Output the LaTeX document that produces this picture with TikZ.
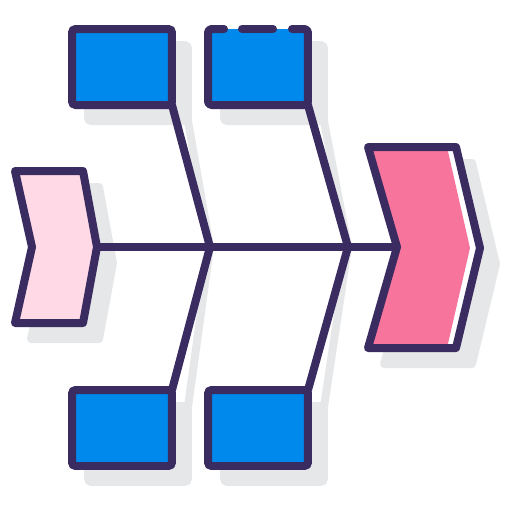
\documentclass[tikz,border=0pt]{standalone}
\usetikzlibrary{positioning, calc}
\definecolor{inkpurple}{RGB}{58, 44, 96}
\definecolor{causeblue}{RGB}{0, 137, 236}
\definecolor{tailpink}{RGB}{255, 217, 230}
\definecolor{headpink}{RGB}{247, 116, 156}
\definecolor{shadowgray}{RGB}{230, 231, 232}

\tikzset{
  causebox/.style={draw=inkpurple, fill=causeblue, line width=0.16cm, rounded corners=2pt, minimum width=2cm, minimum height=1.52cm, inner sep=0pt, outer sep=0pt},
  causeshadow/.style={draw=shadowgray, fill=shadowgray, line width=0.16cm, rounded corners=2pt, minimum width=2cm, minimum height=1.52cm, inner sep=0pt, outer sep=0pt},
  bone/.style={draw=inkpurple, line width=0.16cm, line cap=round, line join=round},
  boneshadow/.style={draw=shadowgray, line width=0.16cm, line cap=round, line join=round}
}

\begin{document}
\begin{tikzpicture}[x=0.02cm, y=-0.02cm]
  \useasboundingbox (0,0) rectangle (512,512);

  % Joints on the spine
  \coordinate (j1) at (210,247);
  \coordinate (j2) at (348,247);
  \coordinate (tailtip) at (97,247);
  \coordinate (headnotch) at (397,247);

  % Shadows
  \begin{scope}[shift={(16,16)}]
    \node[causeshadow] at (122,67) {};
    \node[causeshadow] at (258,67) {};
    \node[causeshadow] at (122,428) {};
    \node[causeshadow] at (258,428) {};
    \draw[boneshadow] (172,105) -- (j1) -- (172,391);
    \draw[boneshadow] (308,105) -- (j2) -- (308,391);
    \draw[boneshadow] (tailtip) -- (headnotch);
    \filldraw[boneshadow, fill=shadowgray] (15,171) -- (83,171) -- (97,247) -- (83,323) -- (15,323) -- (32,247) -- cycle;
    \filldraw[boneshadow, fill=shadowgray] (368,147) -- (456,147) -- (480,248) -- (456,348) -- (368,348) -- (397,248) -- cycle;
  \end{scope}

  % Cause boxes
  \node[causebox] (tl) at (122,67) {};
  \node[causebox, draw=none] (tr) at (258,67) {};
  \node[causebox] (bl) at (122,428) {};
  \node[causebox] (br) at (258,428) {};
  \draw[bone, rounded corners=2pt] ($(tr.north west)+(16,0)$) -- (tr.north west) -- (tr.south west) -- (tr.south east) -- (tr.north east) -- ++(-16,0);
  \draw[bone] (242,29) -- (273,29);

  % Bones
  \draw[bone] (tl.south east) -- (j1) -- (bl.north east);
  \draw[bone] (tr.south east) -- (j2) -- (br.north east);
  \draw[bone] (tailtip) -- (headnotch);

  % Tail
  \filldraw[bone, fill=tailpink] (15,171) -- (83,171) -- (tailtip) -- (83,323) -- (15,323) -- (32,247) -- cycle;

  % Head
  \fill[white] (368,147) -- (456,147) -- (480,248) -- (456,348) -- (368,348) -- (397,248) -- cycle;
  \fill[headpink] (368,147) -- (447,147) -- (470,248) -- (447,348) -- (368,348) -- (397,248) -- cycle;
  \draw[bone] (368,147) -- (456,147) -- (480,248) -- (456,348) -- (368,348) -- (headnotch) -- cycle;
\end{tikzpicture}
\end{document}
